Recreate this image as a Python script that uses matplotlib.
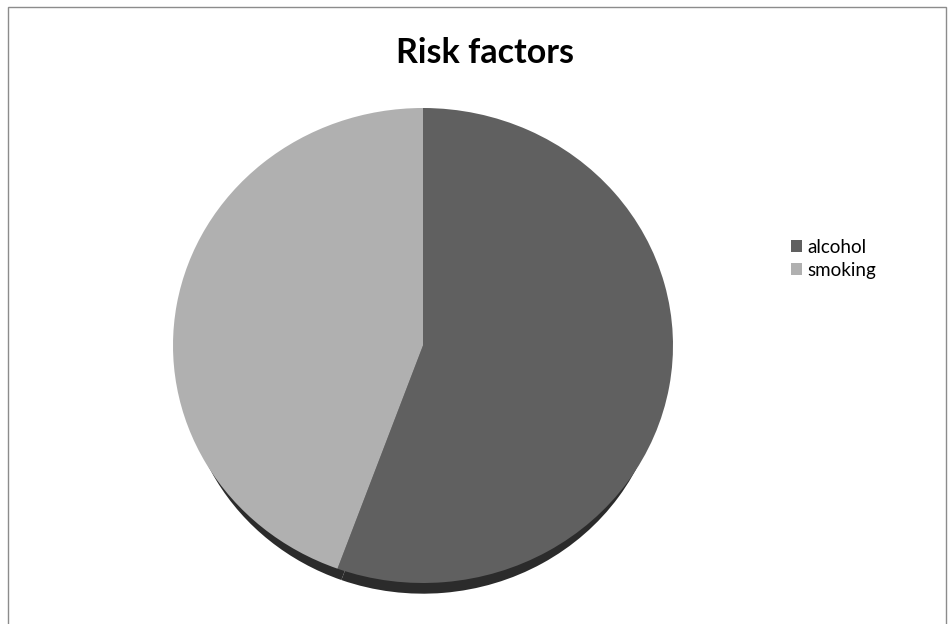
import matplotlib.pyplot as plt
from matplotlib.patches import Rectangle

labels = ['alcohol', 'smoking']
values = [5, 4]
colors = ['#606060', '#b0b0b0']

W, H = 953, 624
fig = plt.figure(figsize=(W / 100, H / 100), dpi=100)
fig.patch.set_facecolor('white')

# chart border
fig.patches.append(Rectangle((8 / W, -0.01), 938 / W, (H - 7) / H + 0.01,
                             transform=fig.transFigure, fill=False,
                             edgecolor='#8c8c8c', linewidth=1))

# pie area (pixel box of the top face)
ax = fig.add_axes([173 / W, (H - 583) / H, 500 / W, 475 / H])

# dark rim below the pie, only shows near the bottom
ax.pie(values, colors=['#2b2b2b', '#2b2b2b'], startangle=90,
       counterclock=False, center=(0, -0.09), radius=0.955,
       wedgeprops=dict(linewidth=0), frame=False)
wedges, _ = ax.pie(values, colors=colors, startangle=90,
                   counterclock=False,
                   wedgeprops=dict(linewidth=0), frame=False)
ax.set_aspect('auto')
ax.set_xlim(-1, 1)
ax.set_ylim(-1, 1)
ax.axis('off')
for p in ax.patches:
    p.set_clip_on(False)

fig.text(485 / W, 1 - 53 / H, 'Risk factors', ha='center', va='center',
         fontsize=24.5, fontweight='bold', family='Lato')

fig.legend(wedges, labels, loc='upper left',
           bbox_to_anchor=(791 / W, 1 - 239 / H), frameon=False,
           prop=dict(family='Lato', size=13.5),
           handlelength=0.6, handleheight=0.6, handletextpad=0.3,
           labelspacing=0.3, borderaxespad=0, borderpad=0)

fig.savefig('out.png', dpi=100)
